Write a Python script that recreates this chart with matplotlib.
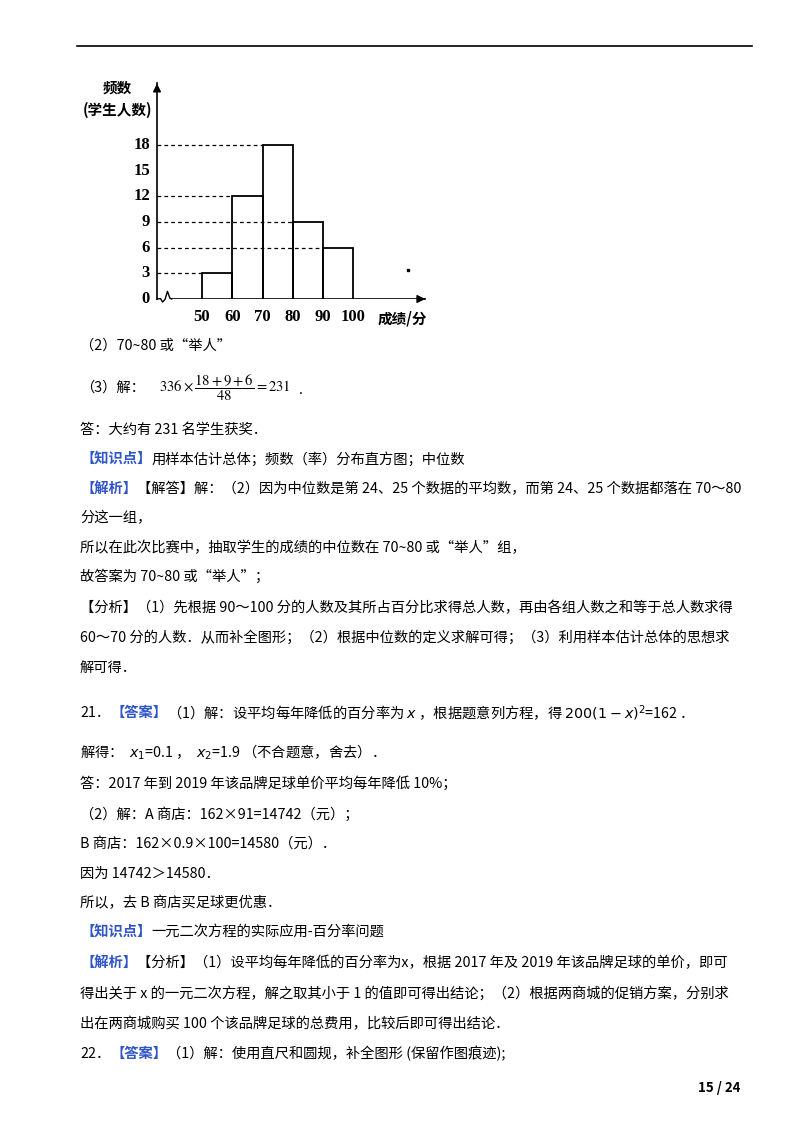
import matplotlib
matplotlib.use("Agg")
import matplotlib.pyplot as plt

plt.rcParams['font.family'] = ['Noto Sans CJK SC', 'DejaVu Sans']

# histogram data
bin_edges = [50, 60, 70, 80, 90, 100]
counts = [3, 12, 18, 9, 6]
y_ticks = [0, 3, 6, 9, 12, 15, 18]
x_ticks = [50, 60, 70, 80, 90, 100]

BLUE = "#2f55c8"
W, H = 800, 1132

# page text: (y pixel, [(text, colour), ...])
lines = [
    (346, [("（2）70~80 或“举人”", "black")]),
    (430, [("答：大约有 231 名学生获奖．", "black")]),
    (459, [("【知识点】", BLUE), ("用样本估计总体；频数（率）分布直方图；中位数", "black")]),
    (489, [("【解析】", BLUE), ("【解答】解：（2）因为中位数是第 24、25 个数据的平均数，而第 24、25 个数据都落在 70～80", "black")]),
    (518, [("分这一组，", "black")]),
    (548, [("所以在此次比赛中，抽取学生的成绩的中位数在 70~80 或“举人”组，", "black")]),
    (577, [("故答案为 70~80 或“举人”；", "black")]),
    (608, [("【分析】（1）先根据 90～100 分的人数及其所占百分比求得总人数，再由各组人数之和等于总人数求得", "black")]),
    (638, [("60～70 分的人数．从而补全图形；（2）根据中位数的定义求解可得；（3）利用样本估计总体的思想求", "black")]),
    (668, [("解可得．", "black")]),
    (713, [("21．", "black"), ("【答案】", BLUE), ("（1）解：设平均每年降低的百分率为 $x$ ，根据题意列方程，得 $200\\left(1-x\\right)^2$=162 ．", "black")]),
    (752, [("解得：  $x_1$=0.1 ，  $x_2$=1.9 （不合题意，舍去）．", "black")]),
    (783, [("答：2017 年到 2019 年该品牌足球单价平均每年降低 10%；", "black")]),
    (814, [("（2）解：A 商店：162×91=14742（元）；", "black")]),
    (844, [("B 商店：162×0.9×100=14580（元）．", "black")]),
    (874, [("因为 14742＞14580．", "black")]),
    (903, [("所以，去 B 商店买足球更优惠．", "black")]),
    (932, [("【知识点】", BLUE), ("一元二次方程的实际应用-百分率问题", "black")]),
    (963, [("【解析】", BLUE), ("【分析】（1）设平均每年降低的百分率为x，根据 2017 年及 2019 年该品牌足球的单价，即可", "black")]),
    (993, [("得出关于 x 的一元二次方程，解之取其小于 1 的值即可得出结论；（2）根据两商城的促销方案，分别求", "black")]),
    (1024, [("出在两商城购买 100 个该品牌足球的总费用，比较后即可得出结论．", "black")]),
    (1054, [("22．", "black"), ("【答案】", BLUE), ("（1）解：使用直尺和圆规，补全图形 (保留作图痕迹);", "black")]),
]

fig = plt.figure(figsize=(W / 100, H / 100), dpi=100)
page = fig.add_axes([0, 0, 1, 1])
page.set_xlim(0, W)
page.set_ylim(H, 0)
page.axis("off")
page.plot([77, 752], [46, 46], color="black", lw=1.2)

renderer = fig.canvas.get_renderer()
FS = 10.3
for y, segs in lines:
    x = 80
    for txt, col in segs:
        t = page.text(x, y, txt, fontsize=FS, color=col, va="center", ha="left",
                      fontweight="bold" if col == BLUE else "normal")
        x += t.get_window_extent(renderer).width

# (3) with the fraction
t = page.text(80, 388, "（3）解：", fontsize=FS, va="center")
x = 80 + t.get_window_extent(renderer).width + 14
m = page.text(x, 388, r"$336\times\dfrac{18+9+6}{48}=231$", fontsize=10.5, va="center",
              math_fontfamily="stix")
x += m.get_window_extent(renderer).width + 8
page.text(x, 390, ".", fontsize=FS, va="center")

page.text(740, 1088, "15 / 24", fontsize=9.5, fontweight="bold", ha="right", va="center")

# histogram axes: origin at pixel (157, 299), 10 units = 30.3 px in x, 1 unit = 8.556 px in y
x0v, x1v = 35.15, 124.6
y0v, y1v = 0, 25.2
left = 157 / W
bottom = 1 - 299 / H
width = (x1v - x0v) * 3.03 / W
height = (y1v - y0v) * 8.556 / H
ax = fig.add_axes([left, bottom, width, height])
ax.set_xlim(x0v, x1v)
ax.set_ylim(y0v, y1v)
ax.patch.set_alpha(0)
for s in ["top", "right", "bottom"]:
    ax.spines[s].set_visible(False)
ax.spines["left"].set_linewidth(1.2)

for i, c in enumerate(counts):
    a, b = bin_edges[i], bin_edges[i + 1]
    ax.plot([a, a, b, b], [0, c, c, 0], color="black", lw=1.3, solid_joinstyle="miter")
    ax.plot([x0v, a], [c, c], color="black", lw=0.9, ls=(0, (3, 2.5)))

# x axis with break squiggle near the origin
ax.plot([x0v, 36.3, 37.0, 37.8, 38.6, 39.4, 40.0],
        [0, 0.05, -0.35, -0.05, 0.9, 0.1, 0], color="black", lw=1, clip_on=False)
ax.plot([40.0, x1v - 1], [0, 0], color="black", lw=1.2)
ax.annotate("", xy=(x1v, 0), xytext=(x1v - 2, 0),
            arrowprops=dict(arrowstyle="-|>", color="black", lw=1, mutation_scale=12),
            annotation_clip=False)
ax.annotate("", xy=(x0v, y1v + 0.3), xytext=(x0v, y1v - 1),
            arrowprops=dict(arrowstyle="-|>", color="black", lw=1, mutation_scale=12),
            annotation_clip=False)

ax.set_xticks([])
ax.set_yticks([])
serif = ["Liberation Serif", "Noto Sans CJK SC"]
for v in y_ticks:
    ax.text(x0v - 2.3, v, str(v), ha="right", va="center", fontsize=12,
            family=serif, fontweight="bold")
for v in x_ticks:
    ax.text(v, -1.2, str(v), ha="center", va="top", fontsize=12,
            family=serif, fontweight="bold")
ax.plot([118], [3.4], marker="s", ms=1.5, color="black")

page.text(117, 88, "频数", fontsize=10.5, fontweight="bold", ha="center", va="center")
page.text(117, 110, "(学生人数)", fontsize=10.5, fontweight="bold", ha="center", va="center")
page.text(402, 319, "成绩/分", fontsize=10.5, fontweight="bold", ha="center", va="center")

fig.savefig("out.png", dpi=100)
